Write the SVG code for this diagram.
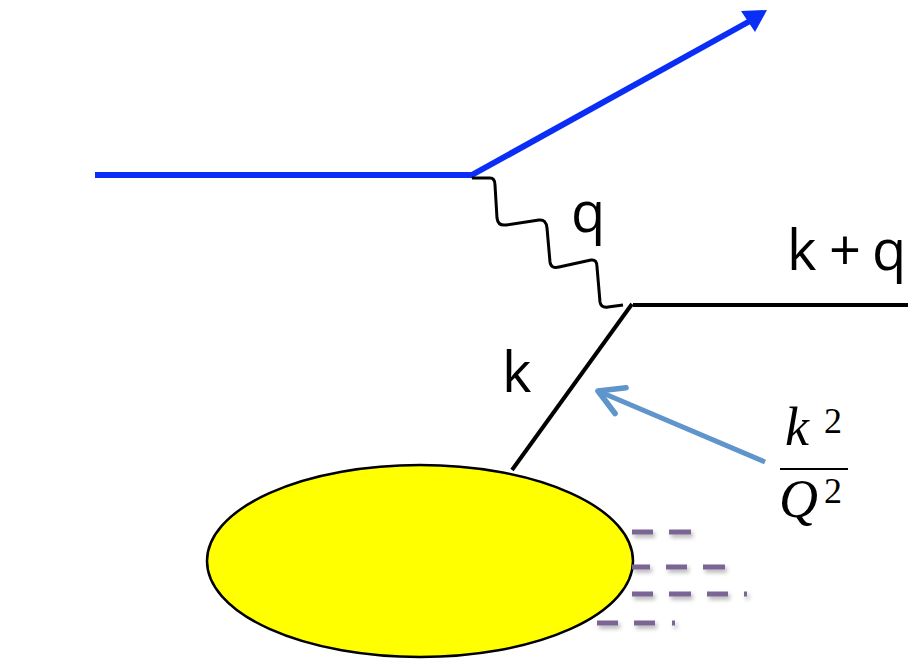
<svg xmlns="http://www.w3.org/2000/svg" width="908" height="660" viewBox="0 0 908 660">
<style>
.lbl{font-family:"Open Sans","Liberation Sans",sans-serif;font-size:56px;fill:#000}
.math{font-family:"Liberation Serif","DejaVu Serif",serif;font-style:italic;fill:#000;font-size:54px}
.sup{font-family:"Liberation Serif","DejaVu Serif",serif;font-style:normal;fill:#000;font-size:36px}
.dash{stroke:#7A6595;stroke-width:5;fill:none}
</style>
<defs>
<marker id="lbHead" viewBox="0 0 10 10" refX="9" refY="5" markerWidth="7" markerHeight="7" orient="auto">
<path d="M2,1 L9,5 L2,9" fill="none" stroke="#5F95CB" stroke-width="1.6" stroke-linecap="round" stroke-linejoin="round"/>
</marker>
<filter id="sh" x="-20%" y="-50%" width="140%" height="250%">
<feDropShadow dx="2" dy="3" stdDeviation="2" flood-color="#000" flood-opacity="0.3"/>
</filter>
</defs>
<g id="connectors">
<line x1="95" y1="175" x2="472" y2="175" stroke="#0A2EF5" stroke-width="6"/>
<line x1="470" y1="176" x2="750" y2="21" stroke="#0A2EF5" stroke-width="6"/>
<path d="M741,11 L767,10 L755,32 Z" fill="#0A2EF5"/>
<path d="M472,178 L490,178 Q495,178 495,185 L497,218 Q498,226 506,225 L539,220 Q546,219 547,228 L550,262 Q551,269 559,267 L591,260 Q597,259 597,267 L600,302 Q601,308 608,307 L623,305" fill="none" stroke="#000" stroke-width="3"/>
<line x1="512" y1="470" x2="632" y2="304" stroke="#000" stroke-width="4"/>
<line x1="633" y1="305" x2="908" y2="305" stroke="#000" stroke-width="4"/>
<line x1="12" y1="563" x2="208" y2="563" stroke="#000" stroke-width="10" filter="url(#sh)"/>
<line x1="765" y1="462" x2="598" y2="391" stroke="#5F95CB" stroke-width="5" marker-end="url(#lbHead)"/>
</g>
<g id="blob">
<ellipse cx="420" cy="561" rx="213" ry="96" fill="#FFFF00" stroke="#000" stroke-width="2.5"/>
</g>
<g id="remnants" filter="url(#sh)">
<path class="dash" d="M632,532 H653 M669,532 H691"/>
<path class="dash" d="M632,567 H650 M666,567 H687 M703,567 H725"/>
<path class="dash" d="M632,594 H653 M669,594 H691 M707,594 H728 M744,594 H747"/>
<path class="dash" d="M597,623 H618 M634,623 H655 M672,623 H675"/>
</g>
<g id="labels">
<text class="lbl" x="571" y="232">q</text>
<text class="lbl" y="270"><tspan x="787">k</tspan><tspan x="829">+</tspan><tspan x="872">q</tspan></text>
<text class="lbl" x="502" y="392">k</text>
</g>
<g id="ratio">
<text class="math" x="785" y="445">k</text>
<text class="sup" x="824" y="433">2</text>
<line x1="780" y1="469" x2="848" y2="469" stroke="#000" stroke-width="2"/>
<text class="math" x="779" y="517">Q</text>
<text class="sup" x="824" y="503">2</text>
</g>
</svg>
